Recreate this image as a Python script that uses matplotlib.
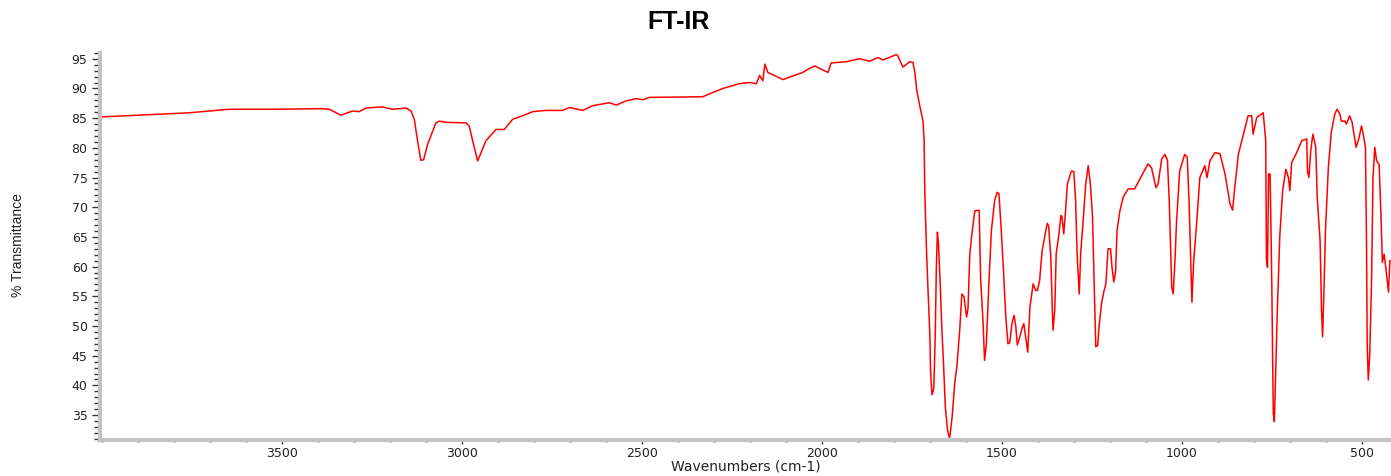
import matplotlib.pyplot as plt
from matplotlib.ticker import MultipleLocator

# ----------------------
# Spectrum (wavenumber, %T)
# ----------------------
wavenumber = [
    4005, 3758, 3646, 3520, 3388, 3368, 3336, 3304, 3285, 3266, 3221, 3193, 3155, 3141,
    3132, 3123, 3114, 3106, 3095, 3072, 3063, 3044, 2988, 2979, 2970, 2956, 2933, 2905,
    2882, 2859, 2831, 2803, 2766, 2720, 2701, 2664, 2637, 2590, 2571, 2544, 2516, 2497,
    2479, 2331, 2312, 2275, 2229, 2201, 2182, 2173, 2164, 2158, 2150, 2108, 2081, 2053,
    2039, 2020, 1983, 1974, 1932, 1895, 1867, 1844, 1830, 1793, 1789, 1775, 1756, 1747,
    1742, 1736, 1726, 1719, 1716, 1714, 1710, 1705, 1700, 1698, 1694, 1689, 1685, 1682,
    1679, 1676, 1671, 1666, 1662, 1657, 1651, 1645, 1638, 1631, 1625, 1617, 1611, 1605,
    1598, 1594, 1589, 1582, 1575, 1563, 1559, 1552, 1548, 1543, 1536, 1529, 1520, 1513,
    1508, 1501, 1495, 1489, 1483, 1478, 1472, 1466, 1461, 1457, 1450, 1443, 1439, 1434,
    1428, 1422, 1413, 1406, 1401, 1395, 1388, 1381, 1374, 1370, 1364, 1360, 1358, 1353,
    1349, 1342, 1336, 1333, 1328, 1323, 1318, 1311, 1307, 1300, 1295, 1291, 1285, 1281,
    1274, 1267, 1260, 1254, 1248, 1244, 1239, 1234, 1230, 1223, 1217, 1211, 1205, 1198,
    1194, 1189, 1184, 1180, 1172, 1163, 1149, 1131, 1117, 1094, 1084, 1072, 1066, 1056,
    1047, 1040, 1035, 1031, 1028, 1024, 1019, 1015, 1006, 992, 985, 980, 976, 972,
    967, 959, 950, 936, 930, 922, 908, 894, 880, 866, 859, 853, 843, 830,
    816, 806, 802, 792, 774, 767, 765, 762, 759, 755, 753, 750, 746, 743,
    740, 735, 728, 720, 711, 704, 700, 695, 681, 667, 653, 651, 647, 642,
    636, 628, 624, 616, 612, 609, 605, 601, 593, 585, 575, 569, 561, 557,
    547, 543, 534, 527, 520, 516, 508, 501, 497, 490, 487, 485, 482, 478,
    473, 469, 464, 459, 452, 447, 443, 438, 433, 426, 422, 419,
]
transmittance = [
    85.2, 85.9, 86.5, 86.5, 86.6, 86.5, 85.5, 86.2, 86.1, 86.7, 86.9, 86.5, 86.7, 86.2,
    84.8, 81.2, 77.9, 78.0, 80.6, 84.2, 84.5, 84.3, 84.2, 83.6, 81.2, 77.8, 81.2, 83.1,
    83.1, 84.8, 85.4, 86.1, 86.3, 86.3, 86.8, 86.3, 87.1, 87.6, 87.2, 87.9, 88.3, 88.1,
    88.5, 88.6, 89.1, 90.0, 90.8, 91.0, 90.8, 92.2, 91.3, 94.1, 92.7, 91.5, 92.1, 92.7,
    93.2, 93.8, 92.7, 94.3, 94.5, 95.0, 94.6, 95.2, 94.8, 95.7, 95.5, 93.6, 94.5, 94.4,
    92.9, 89.6, 86.5, 84.5, 81.5, 72.8, 64.1, 56.0, 48.7, 42.3, 38.4, 39.5, 48.2, 59.6,
    65.8, 63.8, 56.8, 48.7, 43.7, 36.4, 32.5, 31.1, 34.7, 40.3, 43.1, 49.3, 55.4, 54.9,
    51.5, 52.9, 62.1, 66.1, 69.4, 69.5, 58.2, 50.4, 44.2, 47.0, 57.1, 66.1, 71.1, 72.5,
    72.3, 65.5, 58.8, 51.5, 47.0, 47.2, 50.4, 51.8, 49.8, 46.8, 48.2, 49.8, 50.4, 48.2,
    45.6, 53.2, 57.1, 56.0, 56.0, 57.7, 62.7, 65.0, 67.3, 66.9, 61.6, 53.8, 49.3, 52.6,
    62.2, 65.2, 68.6, 68.4, 65.5, 69.4, 73.9, 75.3, 76.1, 76.0, 71.1, 62.2, 55.4, 62.2,
    67.8, 73.9, 77.0, 73.9, 68.3, 58.2, 46.5, 46.7, 49.8, 53.8, 55.7, 57.1, 63.0, 63.0,
    59.9, 57.4, 59.1, 66.1, 69.4, 71.7, 73.1, 73.1, 74.7, 77.3, 76.6, 73.3, 73.9, 78.1,
    78.9, 77.9, 71.1, 63.0, 56.5, 55.4, 61.0, 67.2, 76.1, 78.9, 78.4, 71.1, 62.7, 54.0,
    61.0, 67.2, 75.0, 77.0, 75.0, 77.8, 79.2, 79.0, 75.6, 70.5, 69.5, 73.3, 78.9, 82.0,
    85.4, 85.4, 82.3, 85.1, 85.9, 81.2, 61.0, 59.9, 75.6, 75.6, 68.9, 56.5, 35.3, 33.9,
    40.9, 52.1, 65.0, 72.8, 76.4, 75.0, 72.8, 77.5, 79.2, 81.2, 81.5, 76.1, 75.0, 79.5,
    82.3, 80.1, 71.7, 64.4, 52.6, 48.2, 56.5, 66.1, 76.7, 82.6, 85.7, 86.5, 85.7, 84.5,
    84.5, 84.0, 85.4, 84.3, 81.7, 80.1, 81.6, 83.7, 82.6, 80.1, 63.8, 46.5, 40.9, 45.4,
    57.7, 75.0, 80.1, 77.8, 77.2, 68.9, 60.7, 62.1, 59.6, 55.7, 61.0, 61.0,
]
x_ticks = [3500, 3000, 2500, 2000, 1500, 1000, 500]
y_ticks = [35, 40, 45, 50, 55, 60, 65, 70, 75, 80, 85, 90, 95]

fig = plt.figure(figsize=(13.91, 4.76), dpi=100)
ax = fig.add_axes([0.0719, 0.0756, 0.9281, 0.8134])

ax.plot(wavenumber, transmittance, color="#ff0000", linewidth=1.1)

ax.set_xlim(4005, 419)
ax.set_ylim(30.8, 96)

ax.set_xticks(x_ticks)
ax.xaxis.set_minor_locator(MultipleLocator(100))
ax.set_yticks(y_ticks)
ax.yaxis.set_minor_locator(MultipleLocator(1))

for side in ["top", "right"]:
    ax.spines[side].set_visible(False)
for side in ["left", "bottom"]:
    ax.spines[side].set_color("#c4c4c4")
    ax.spines[side].set_linewidth(3)

ax.tick_params(axis="y", which="major", direction="out", length=6, width=1,
               color="#333333", labelsize=9, labelcolor="#222222", pad=3)
ax.tick_params(axis="y", which="minor", direction="out", length=4, width=1, color="#333333")
ax.tick_params(axis="x", which="major", direction="out", length=3, width=1,
               color="#333333", labelsize=9, labelcolor="#222222", pad=2)
ax.tick_params(axis="x", which="minor", direction="out", length=1.5, width=1, color="#333333")

fig.text(0.536, 0.019, "Wavenumbers (cm-1)", ha="center", va="center",
         fontsize=10, color="#222222")
fig.text(0.013, 0.485, "% Transmittance", ha="center", va="center", rotation=90,
         fontsize=10, color="#222222", family=["Liberation Sans Narrow", "Liberation Sans"])

fig.text(0.488, 0.953, "FT-IR", ha="center", va="center", fontsize=18,
         fontweight="bold", family="Liberation Sans")

fig.savefig("out.png", dpi=100)
